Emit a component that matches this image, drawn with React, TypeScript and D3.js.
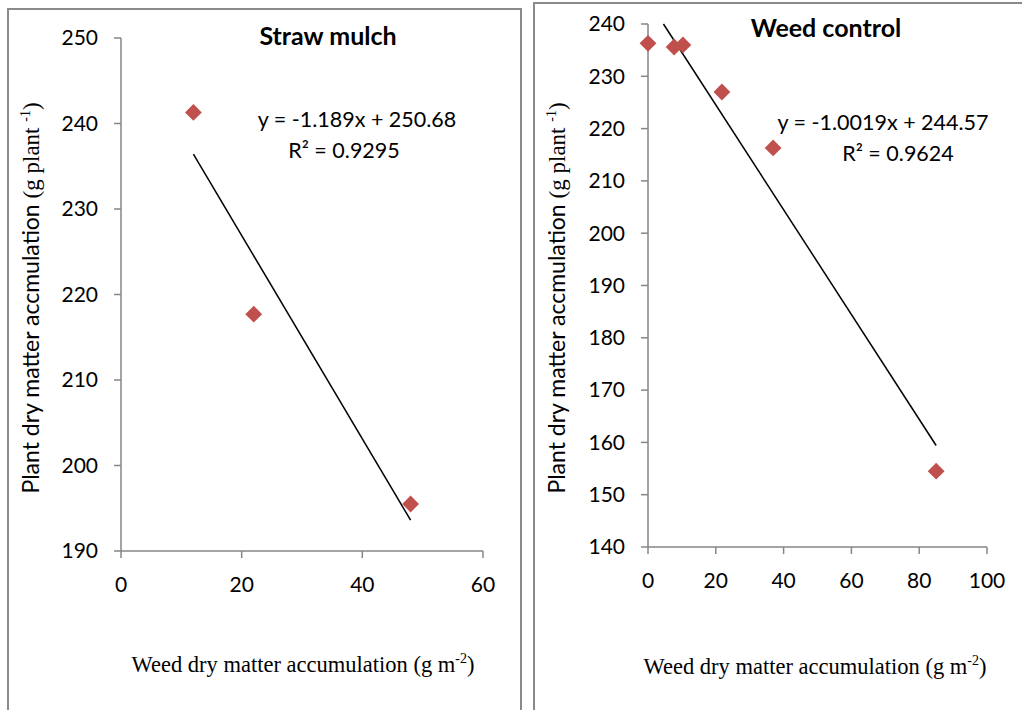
import React from "react";
import * as d3 from "d3";

const strawX = [12, 22, 48];
const strawY = [241.3, 217.7, 195.5];
const strawXTicks = [0, 20, 40, 60];
const strawYTicks = [190, 200, 210, 220, 230, 240, 250];
const strawFit = { slope: -1.189, intercept: 250.68, r2: "0.9295", eq: "y = -1.189x + 250.68" };

const weedX = [0, 7.7, 10.3, 21.8, 36.9, 85];
const weedY = [236.3, 235.6, 236.0, 227.0, 216.3, 154.5];
const weedXTicks = [0, 20, 40, 60, 80, 100];
const weedYTicks = [140, 150, 160, 170, 180, 190, 200, 210, 220, 230, 240];
const weedFit = { slope: -1.0019, intercept: 244.57, r2: "0.9624", eq: "y = -1.0019x + 244.57" };

const SANS = "Lato, Carlito, Calibri, 'Open Sans', sans-serif";
const SERIF = "'Liberation Serif', 'Times New Roman', serif";
const AXIS = "#868686";
const MARK = "#C0504D";

type PanelProps = {
  xs: number[]; ys: number[]; xTicks: number[]; yTicks: number[];
  fit: { slope: number; intercept: number; r2: string; eq: string };
  x0: number; x1: number; y0: number; y1: number;
  title: string; titleX: number; titleY: number;
  eqX: number; eqY: number; r2X: number; r2Y: number;
  fitRange: [number, number];
  yLabelX: number; yLabelY: number;
  xLabelX: number; xLabelY: number;
};

function Panel(p: PanelProps) {
  const xMin = p.xTicks[0], xMax = p.xTicks[p.xTicks.length - 1];
  const yMin = p.yTicks[0], yMax = p.yTicks[p.yTicks.length - 1];
  const x = d3.scaleLinear().domain([xMin, xMax]).range([p.x0, p.x1]);
  const y = d3.scaleLinear().domain([yMin, yMax]).range([p.y0, p.y1]);
  let fa = p.fitRange[0], fb = p.fitRange[1];
  const fy = (v: number) => p.fit.slope * v + p.fit.intercept;
  if (fy(fa) > yMax) fa = (yMax - p.fit.intercept) / p.fit.slope;
  const line = d3.line<number>().x((v) => x(v)).y((v) => y(fy(v)));
  const diamond = d3.symbol().type(d3.symbolDiamond2).size(180)();
  return (
    <g>
      <line x1={p.x0} x2={p.x0} y1={p.y0} y2={p.y1} stroke={AXIS} strokeWidth={1.5} />
      <line x1={p.x0} x2={p.x1} y1={p.y0} y2={p.y0} stroke={AXIS} strokeWidth={1.5} />
      {p.yTicks.map((t) => (
        <g key={"y" + t}>
          <line x1={p.x0 - 7} x2={p.x0} y1={y(t)} y2={y(t)} stroke={AXIS} strokeWidth={1.5} />
          <text x={p.x0 - 23} y={y(t)} dy="0.35em" textAnchor="end" fontFamily={SANS} fontSize={21} fill="#000">{t}</text>
        </g>
      ))}
      {p.xTicks.map((t) => (
        <g key={"x" + t}>
          <line x1={x(t)} x2={x(t)} y1={p.y0} y2={p.y0 + 7} stroke={AXIS} strokeWidth={1.5} />
          <text x={x(t)} y={p.y0 + 34} dy="0.35em" textAnchor="middle" fontFamily={SANS} fontSize={21} fill="#000">{t}</text>
        </g>
      ))}
      <path d={line([fa, fb]) || ""} stroke="#000" strokeWidth={1.5} fill="none" />
      {p.xs.map((v, i) => (
        <path key={i} d={diamond || ""} transform={`translate(${x(v)},${y(p.ys[i])})`} fill={MARK} />
      ))}
      <text x={p.titleX} y={p.titleY} textAnchor="middle" fontFamily={SANS} fontWeight="bold" fontSize={25} fill="#000">{p.title}</text>
      <text x={p.eqX} y={p.eqY} dy="0.35em" textAnchor="middle" fontFamily={SANS} fontSize={21.5} fill="#000">{p.fit.eq}</text>
      <text x={p.r2X} y={p.r2Y} dy="0.35em" textAnchor="middle" fontFamily={SANS} fontSize={21.5} fill="#000">R² = {p.fit.r2}</text>
      <text transform={`translate(${p.yLabelX},${p.yLabelY}) rotate(-90)`} textAnchor="middle" fontSize={23} fill="#000">
        <tspan fontFamily={SANS}>Plant dry matter accmulation </tspan>
        <tspan fontFamily={SERIF}>(g plant </tspan>
        <tspan fontFamily={SERIF} fontSize={14} dy={-9}>-1</tspan>
        <tspan fontFamily={SERIF} dy={9}>)</tspan>
      </text>
      <text x={p.xLabelX} y={p.xLabelY} textAnchor="middle" fontFamily={SERIF} fontSize={22.5} fill="#000">
        <tspan>Weed dry matter accumulation (g m</tspan>
        <tspan fontSize={14} dy={-9}>-2</tspan>
        <tspan dy={9}>)</tspan>
      </text>
    </g>
  );
}

export default function App() {
  return (
    <svg width={1022} height={710} style={{ position: "absolute", left: 0, top: 0, background: "#fff" }}>
      <rect x={0} y={0} width={1022} height={710} fill="#fff" />
      <path d="M8,712 L8,9 L521,9 L521,712" fill="none" stroke="#8a8a8a" strokeWidth={2} />
      <path d="M534,712 L534,3 L1024,3" fill="none" stroke="#8a8a8a" strokeWidth={2} />
      <Panel
        xs={strawX} ys={strawY} xTicks={strawXTicks} yTicks={strawYTicks} fit={strawFit}
        x0={121} x1={483} y0={551} y1={38}
        title="Straw mulch" titleX={328} titleY={45}
        eqX={357} eqY={119} r2X={344} r2Y={150}
        fitRange={[12, 48]}
        yLabelX={39} yLabelY={298}
        xLabelX={303} xLabelY={672}
      />
      <Panel
        xs={weedX} ys={weedY} xTicks={weedXTicks} yTicks={weedYTicks} fit={weedFit}
        x0={648} x1={987} y0={547} y1={24}
        title="Weed control" titleX={826} titleY={37}
        eqX={883} eqY={122} r2X={898} r2Y={153}
        fitRange={[0, 85]}
        yLabelX={565} yLabelY={298}
        xLabelX={815} xLabelY={674}
      />
    </svg>
  );
}
